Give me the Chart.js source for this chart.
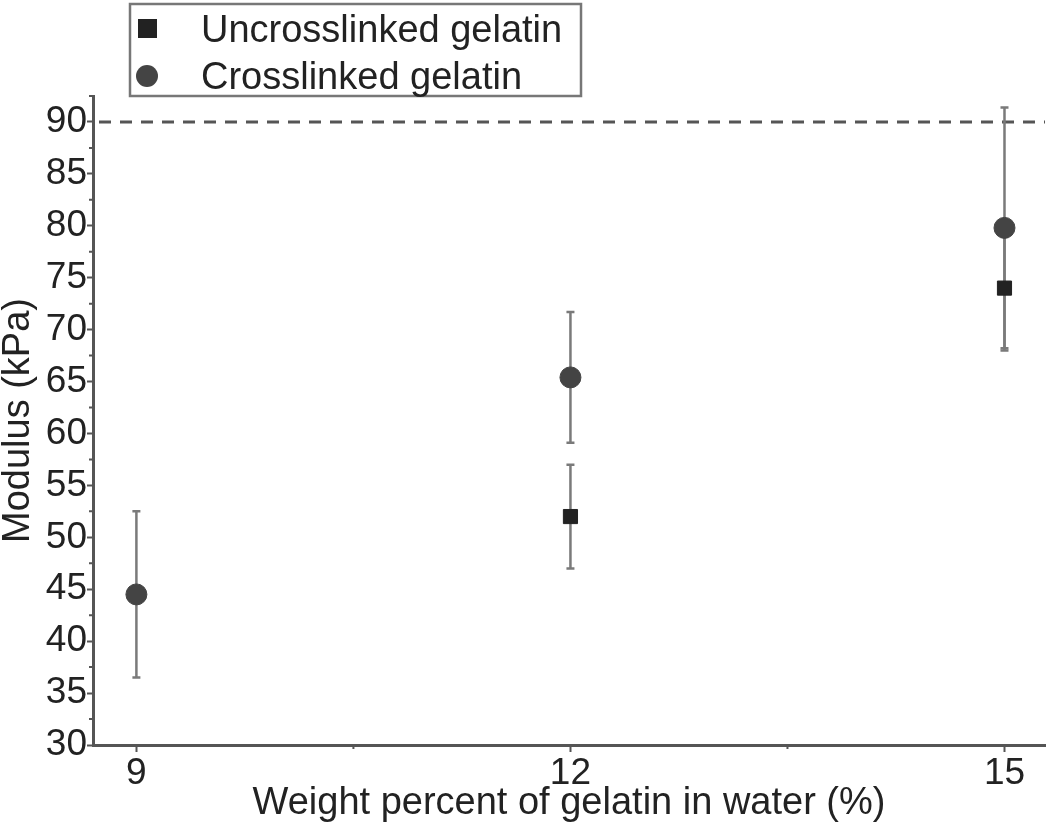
<!DOCTYPE html>
<html>
<head>
<meta charset="utf-8">
<script src="https://cdn.jsdelivr.net/npm/chart.js@4/dist/chart.umd.min.js"></script>
<style>
html,body{margin:0;padding:0;background:#fff;}
#wrap{width:1050px;height:826px;position:relative;}
</style>
</head>
<body>
<div id="wrap"><canvas id="c" width="1050" height="826"></canvas></div>
<script>
const xCategories = [9, 12, 15];
const uncrossX = [12, 15];
const uncrossY = [52, 74];
const uncrossErr = [5, 6];
const crossX = [9, 12, 15];
const crossY = [44.5, 65.4, 79.8];
const crossErr = [8, 6.3, 11.6];
const yTickLabels = [30, 35, 40, 45, 50, 55, 60, 65, 70, 75, 80, 85, 90];
const yMinorTicks = [32.5, 37.5, 42.5, 47.5, 52.5, 57.5, 62.5, 67.5, 72.5, 77.5, 82.5, 87.5, 92.5];
const xMinorTicks = [10.5, 13.5];
const refLine = 90;
const seriesNames = ['Uncrosslinked gelatin', 'Crosslinked gelatin'];
const xTitle = 'Weight percent of gelatin in water (%)';
const yTitle = 'Modulus (kPa)';

const FONT = '"Liberation Sans", Arial, sans-serif';

const errorBarPlugin = {
  id: 'errbars',
  beforeDatasetsDraw(chart) {
    const ctx = chart.ctx;
    const xs = chart.scales.x, ys = chart.scales.y;
    const ca = chart.chartArea;
    // reference dashed line
    ctx.save();
    ctx.strokeStyle = '#555';
    ctx.lineWidth = 3;
    ctx.setLineDash([12, 9]);
    const yr = ys.getPixelForValue(refLine);
    ctx.beginPath();
    ctx.moveTo(ca.left + 6, yr);
    ctx.lineTo(ca.right, yr);
    ctx.stroke();
    ctx.restore();
    // error bars
    ctx.save();
    ctx.strokeStyle = '#7a7a7a';
    ctx.lineWidth = 2.5;
    const draw = (xArr, yArr, eArr) => {
      for (let i = 0; i < xArr.length; i++) {
        const px = xs.getPixelForValue(xArr[i]);
        const pt = ys.getPixelForValue(yArr[i] + eArr[i]);
        const pb = ys.getPixelForValue(yArr[i] - eArr[i]);
        ctx.beginPath();
        ctx.moveTo(px, pt); ctx.lineTo(px, pb);
        ctx.moveTo(px - 4, pt); ctx.lineTo(px + 4, pt);
        ctx.moveTo(px - 4, pb); ctx.lineTo(px + 4, pb);
        ctx.stroke();
      }
    };
    draw(crossX, crossY, crossErr);
    draw(uncrossX, uncrossY, uncrossErr);
    ctx.restore();
    // minor ticks
    ctx.save();
    ctx.strokeStyle = '#555';
    ctx.lineWidth = 2;
    ctx.beginPath();
    yMinorTicks.forEach(v => {
      const p = ys.getPixelForValue(v);
      ctx.moveTo(ca.left - 4, p); ctx.lineTo(ca.left, p);
    });
    xMinorTicks.forEach(v => {
      const p = xs.getPixelForValue(v);
      ctx.moveTo(p, ca.bottom); ctx.lineTo(p, ca.bottom + 4);
    });
    ctx.stroke();
    ctx.restore();
  },
  afterDraw(chart) {
    const ctx = chart.ctx;
    ctx.save();
    // legend box
    ctx.strokeStyle = '#777';
    ctx.lineWidth = 2.5;
    ctx.strokeRect(130, 4, 451, 92);
    ctx.fillStyle = '#222';
    ctx.fillRect(138, 19, 19, 19);
    ctx.fillStyle = '#444';
    ctx.beginPath();
    ctx.arc(147, 76, 11, 0, Math.PI * 2);
    ctx.fill();
    ctx.fillStyle = '#222';
    ctx.font = '38px ' + FONT;
    ctx.textBaseline = 'alphabetic';
    ctx.fillText(seriesNames[0], 201, 42);
    ctx.fillText(seriesNames[1], 201, 89);
    ctx.restore();
  }
};

new Chart(document.getElementById('c'), {
  type: 'scatter',
  data: {
    datasets: [
      {
        label: seriesNames[0],
        data: uncrossX.map((x, i) => ({x: x, y: uncrossY[i]})),
        pointStyle: 'rect',
        pointRadius: 10,
        backgroundColor: '#222',
        borderColor: '#222',
        borderWidth: 1
      },
      {
        label: seriesNames[1],
        data: crossX.map((x, i) => ({x: x, y: crossY[i]})),
        pointStyle: 'circle',
        pointRadius: 10.5,
        backgroundColor: '#444',
        borderColor: '#444',
        borderWidth: 1
      }
    ]
  },
  options: {
    responsive: false,
    animation: false,
    layout: {autoPadding: false, padding: {left: 0, right: 5, top: 96, bottom: 0}},
    plugins: {legend: {display: false}, tooltip: {enabled: false}},
    scales: {
      x: {
        type: 'linear',
        min: 8.7,
        max: 15.28,
        afterBuildTicks: s => { s.ticks = xCategories.map(v => ({value: v})); },
        afterFit: s => { s.height = 81; s.paddingRight = 0; s.paddingLeft = 0; },
        border: {display: true, color: '#555', width: 3},
        grid: {drawOnChartArea: false, tickLength: 7, tickWidth: 2, tickColor: '#555'},
        ticks: {color: '#222', font: {size: 37, family: FONT}, padding: 0, maxRotation: 0},
        title: {display: true, text: xTitle, color: '#222', font: {size: 38, family: FONT}, padding: {top: -16, bottom: 0}}
      },
      y: {
        type: 'linear',
        min: 30,
        max: 92.5,
        afterBuildTicks: s => { s.ticks = yTickLabels.map(v => ({value: v})); },
        afterFit: s => { s.width = 93; s.paddingTop = 0; s.paddingBottom = 0; },
        border: {display: true, color: '#555', width: 3},
        grid: {drawOnChartArea: false, tickLength: 6, tickWidth: 2, tickColor: '#555'},
        ticks: {color: '#222', font: {size: 37, family: FONT}, padding: 0},
        title: {display: true, text: yTitle, color: '#222', font: {size: 38, family: FONT}, padding: {top: -4, bottom: 0}}
      }
    }
  },
  plugins: [errorBarPlugin]
});
</script>
</body>
</html>
